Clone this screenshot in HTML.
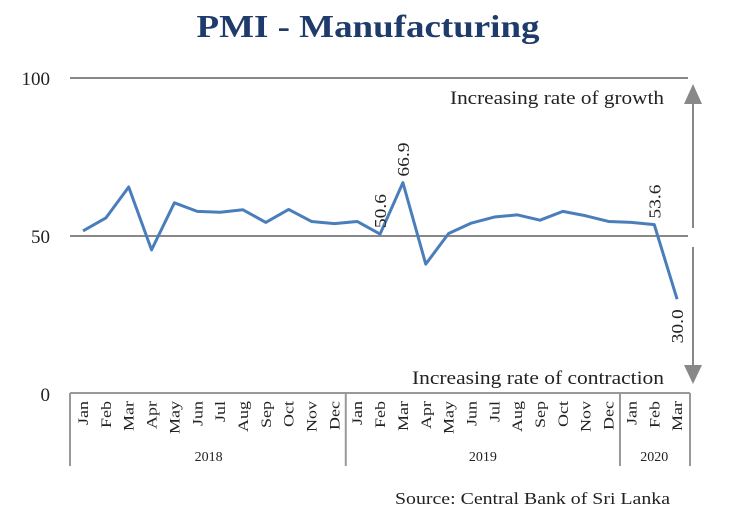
<!DOCTYPE html>
<html><head><meta charset="utf-8"><style>
body{margin:0;background:#fff}
svg{display:block;font-family:"Liberation Serif",serif}
</style></head><body>
<svg width="730" height="514">
<text x="368" y="37" text-anchor="middle" font-size="32" font-weight="bold" fill="#1f3b6b" textLength="343" lengthAdjust="spacingAndGlyphs">PMI - Manufacturing</text>
<g id="axes"></g>
<g id="marks"></g>
<text x="395" y="504" font-size="17" fill="#222" textLength="275" lengthAdjust="spacingAndGlyphs">Source: Central Bank of Sri Lanka</text>
</svg>
<script>
const months=["Jan","Feb","Mar","Apr","May","Jun","Jul","Aug","Sep","Oct","Nov","Dec","Jan","Feb","Mar","Apr","May","Jun","Jul","Aug","Sep","Oct","Nov","Dec","Jan","Feb","Mar"];
const values=[51.6,55.7,65.5,45.6,60.5,57.8,57.5,58.3,54.3,58.4,54.6,53.9,54.6,50.6,66.9,41.1,50.8,54.1,56.0,56.7,55.0,57.8,56.4,54.6,54.3,53.6,30.0];
const years=["2018","2019","2020"];
const yearCounts=[12,12,3];
const yTicks=[0,50,100];
const labeled=[13,14,25,26];
const NS="http://www.w3.org/2000/svg";
const x0=83,dx=22.85,left=70,right=690;
const X=i=>x0+i*dx;
const Y=v=>394-v*3.16;
function el(t,a,p){const e=document.createElementNS(NS,t);for(const k in a)e.setAttribute(k,a[k]);p.appendChild(e);return e;}
const ax=document.getElementById('axes'),mk=document.getElementById('marks');
yTicks.forEach(v=>{
 const t=el('text',{x:50,y:Y(v)+7,'text-anchor':'end','font-size':19,fill:'#222'},ax);t.textContent=v;
 
 
 if(v>0){const l=el('line',{x1:left,x2:right-2,y1:Y(v),y2:Y(v),stroke:'#888','stroke-width':2},ax);
 
 }
});
const base=el('line',{x1:left,x2:right,y1:393,y2:393,stroke:'#999','stroke-width':2},ax);


let acc=0;const seps=[left];
yearCounts.forEach((c,k)=>{
 const s=X(acc)-dx/2, e=X(acc+c-1)+dx/2;
 seps.push(k==yearCounts.length-1?right:e);
 const t=el('text',{x:(s+e)/2,y:461,'text-anchor':'middle','font-size':14,fill:'#222'},ax);t.textContent=years[k];
 
 
 acc+=c;
});
seps.forEach((sx,i)=>{const l=el('line',{x1:sx,x2:sx,y1:393,y2:466,stroke:'#999','stroke-width':2},ax);
 
 });
months.forEach((m,i)=>{
 const t=el('text',{x:0,y:0,'text-anchor':'end','font-size':15,fill:'#222',transform:`translate(${X(i)+5},401) rotate(-90) scale(1.2,1)`},ax);t.textContent=m;
 
 
});
const pl=el('polyline',{points:values.map((v,i)=>X(i)+','+Y(v)).join(' '),fill:'none',stroke:'#4a7ebb','stroke-width':3,'stroke-linejoin':'round'},mk);


labeled.forEach(i=>{
 const v=values[i];const below=i==26;
 const yy=below?Y(v)+10:Y(v)-6;
 const t=el('text',{x:0,y:0,'text-anchor':below?'end':'start','font-size':17,fill:'#222',transform:`translate(${X(i)+6},${yy}) rotate(-90) scale(1.15,1)`},mk);
 t.textContent=v.toFixed(1);
 
 
});
const a1=el('line',{x1:693,x2:693,y1:228,y2:100,stroke:'#888','stroke-width':2},ax);


el('polygon',{points:'684,104 702,104 693,84',fill:'#888'},ax);
const a2=el('line',{x1:693,x2:693,y1:247,y2:368,stroke:'#888','stroke-width':2},ax);


el('polygon',{points:'684,365 702,365 693,384',fill:'#888'},ax);
const g=el('text',{x:450,y:104,'font-size':19,fill:'#222',textLength:214,lengthAdjust:'spacingAndGlyphs'},ax);g.textContent='Increasing rate of growth';


const c=el('text',{x:412,y:384,'font-size':19,fill:'#222',textLength:252,lengthAdjust:'spacingAndGlyphs'},ax);c.textContent='Increasing rate of contraction';


</script>
</body></html>
